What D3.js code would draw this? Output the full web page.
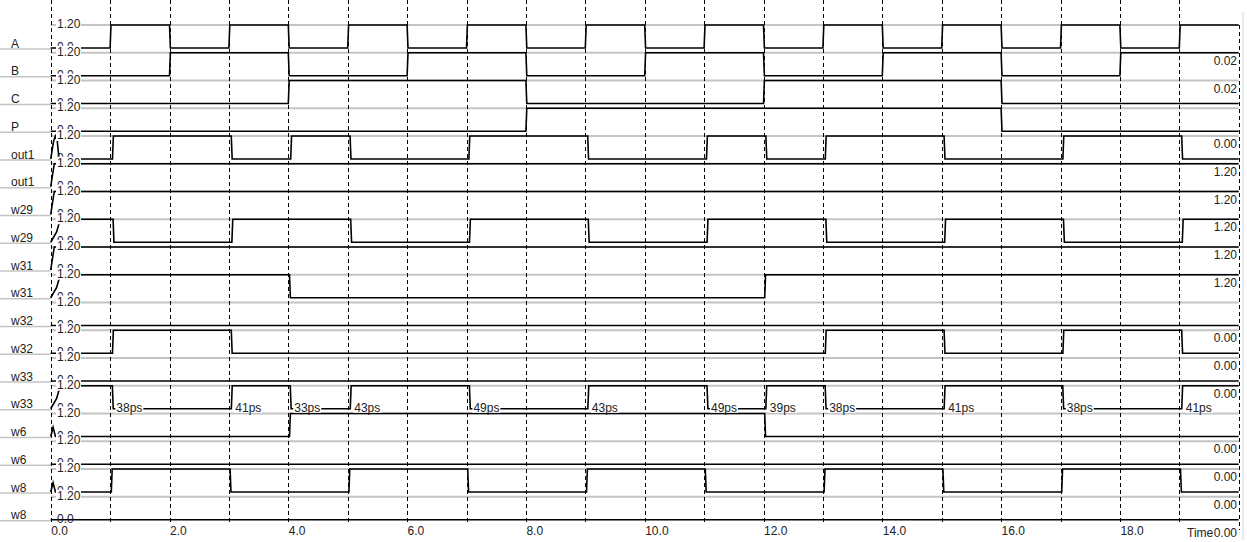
<!DOCTYPE html>
<html>
<head>
<meta charset="utf-8">
<script src="https://cdnjs.cloudflare.com/ajax/libs/d3/7.8.5/d3.min.js"></script>
<style>
  body { margin: 0; background: #fff; }
  svg text { font-family: "Liberation Sans", Arial, sans-serif; font-size: 12px; fill: #222; }
</style>
</head>
<body>
<div id="wave"></div>
<script>
// signal rows, top to bottom
var rowNames = ["A", "B", "C", "P", "out1", "out1", "w29", "w29", "w31", "w31",
                "w32", "w32", "w33", "w33", "w6", "w6", "w8", "w8"];
var startLevels = [0, 0, 0, 0, 0, 1, 1, 1, 1, 1, 0, 0, 0, 1, 0, 0, 0, 0];

// edge times (ns) for each row
var edgesA = [1, 2, 3, 4, 5, 6, 7, 8, 9, 10, 11, 12, 13, 14, 15, 16, 17, 18, 19];
var edgesB = [2, 4, 6, 8, 10, 12, 14, 16, 18];
var edgesC = [4, 8, 12, 16];
var edgesP = [8, 16];
var edgesOut1 = [1, 3, 4, 5, 7, 9, 11, 12, 13, 15, 17, 19];
var edgesW29 = [1, 3, 5, 7, 9, 11, 13, 15, 17, 19];
var edgesW31 = [4, 12];
var edgesW32 = [1, 3, 13, 15, 17, 19];
var edgesW33 = [1, 3, 4, 5, 7, 9, 11, 12, 13, 15, 17, 19];
var delaysW33 = [38, 41, 33, 43, 49, 43, 49, 39, 38, 41, 38, 41]; // ps
var edgesW6 = [4, 12];
var edgesW8 = [1, 3, 5, 7, 9, 11, 13, 15, 17, 19];

// start-up behaviour right after t=0, [ns, level]
var spikeOut1 = [[0, 0], [0.05, 0.8], [0.08, 1], [0.11, 0.8], [0.14, 0]];
var rampFast = [[0, 0], [0.06, 1]];
var rampSlow = [[0, 0], [0.1, 0.45], [0.15, 0.9], [0.2, 1]];
var bumpSmall = [[0, 0], [0.04, 0.4], [0.08, 0]];

var rows = [
  { edges: edgesA, delay: 0, startup: null },
  { edges: edgesB, delay: 0, startup: null },
  { edges: edgesC, delay: 0, startup: null },
  { edges: edgesP, delay: 0, startup: null },
  { edges: edgesOut1, delay: 0.04, startup: spikeOut1 },
  { edges: [], delay: 0, startup: rampFast },
  { edges: [], delay: 0, startup: rampFast },
  { edges: edgesW29, delay: 0.05, startup: rampSlow },
  { edges: [], delay: 0, startup: rampFast },
  { edges: edgesW31, delay: 0.02, startup: rampSlow },
  { edges: [], delay: 0, startup: null },
  { edges: edgesW32, delay: 0.04, startup: null },
  { edges: [], delay: 0, startup: null },
  { edges: edgesW33, delay: delaysW33.map(function (d) { return d / 1000; }), startup: rampSlow },
  { edges: edgesW6, delay: 0.02, startup: bumpSmall },
  { edges: [], delay: 0, startup: null },
  { edges: edgesW8, delay: 0.02, startup: bumpSmall },
  { edges: [], delay: 0, startup: null }
];

var tickValues = [0, 2, 4, 6, 8, 10, 12, 14, 16, 18];
var tickLabels = ["0.0", "2.0", "4.0", "6.0", "8.0", "10.0", "12.0", "14.0", "16.0", "18.0"];

// cursor values at right edge
var rightRows = [1, 2, 4, 5, 6, 7, 8, 9, 11, 12, 13, 15, 16, 17, 18];
var rightVals = ["0.02", "0.02", "0.00", "1.20", "1.20", "1.20", "1.20", "1.20",
                 "0.00", "0.00", "0.00", "0.00", "0.00", "0.00", "0.00"];

var width = 1247, height = 542;
var swing = 23;

var svg = d3.select("#wave").append("svg")
    .attr("width", width)
    .attr("height", height);

var x = d3.scaleLinear().domain([0, 20]).range([50.7, 1238.7]);
var rowTop = d3.scaleLinear().domain([0, 17]).range([25, 496.75]);

function levelY(i, v) {
    return rowTop(i) + swing * (1 - v);
}

// build waveform points from edges
function wavePoints(r, i) {
    var pts = r.startup ? r.startup.slice() : [[0, startLevels[i]]];
    var v = startLevels[i];
    r.edges.forEach(function (e, k) {
        var d = Array.isArray(r.delay) ? r.delay[k] : r.delay;
        pts.push([e + d, v]);
        v = 1 - v;
        pts.push([e + d + 0.015, v]);
    });
    pts.push([20, v]);
    return pts;
}

// grey level lines
svg.append("g").selectAll("line")
    .data(rowNames)
    .enter().append("line")
    .attr("x1", x(0)).attr("x2", x(20))
    .attr("y1", function (d, i) { return rowTop(i); })
    .attr("y2", function (d, i) { return rowTop(i); })
    .attr("stroke", "#c4c4c4")
    .attr("stroke-width", 2);

// name underlines
svg.append("g").selectAll("line")
    .data(rowNames)
    .enter().append("line")
    .attr("x1", 0).attr("x2", x(0))
    .attr("y1", function (d, i) { return rowTop(i) + swing + 1; })
    .attr("y2", function (d, i) { return rowTop(i) + swing + 1; })
    .attr("stroke", "#c4c4c4")
    .attr("stroke-width", 1.5);

svg.append("g").selectAll("text")
    .data(rowNames)
    .enter().append("text")
    .attr("x", 11)
    .attr("y", function (d, i) { return rowTop(i) + swing - 0.5; })
    .text(function (d) { return d; });

// waveforms
svg.append("g").selectAll("path")
    .data(rows)
    .enter().append("path")
    .attr("d", function (r, i) {
        return d3.line()
            .x(function (p) { return x(p[0]); })
            .y(function (p) { return levelY(i, p[1]); })(wavePoints(r, i));
    })
    .attr("fill", "none")
    .attr("stroke", "#000")
    .attr("stroke-width", 1.6);

// dashed time grid
svg.append("g").selectAll("line")
    .data(d3.range(0, 21))
    .enter().append("line")
    .attr("x1", function (t) { return Math.round(x(t)) + 0.5; })
    .attr("x2", function (t) { return Math.round(x(t)) + 0.5; })
    .attr("y1", function (t) { return t === 20 ? 25 : 0; })
    .attr("y2", function (t) { return t === 20 ? 530 : 523; })
    .attr("stroke", "#000")
    .attr("stroke-width", 1)
    .attr("stroke-dasharray", "4,3");

// y labels: "0.0" at the low level, then "1.20" of each row over it
var yLab = svg.append("g");
rowNames.forEach(function (d, i) {
    yLab.append("text")
        .attr("x", 57)
        .attr("y", levelY(i, 0) + 3)
        .text("0.0");
});
rowNames.forEach(function (d, i) {
    yLab.append("rect")
        .attr("x", 56).attr("y", rowTop(i) - 7)
        .attr("width", 25).attr("height", 12)
        .attr("fill", "#fff");
    yLab.append("text")
        .attr("x", 57)
        .attr("y", rowTop(i) + 3)
        .text("1.20");
});

// delay annotations on w33
var psG = svg.append("g");
edgesW33.forEach(function (e, k) {
    var xe = x(e + delaysW33[k] / 1000) + 3;
    var yb = levelY(13, 0) + 3;
    psG.append("rect")
        .attr("x", xe).attr("y", yb - 9)
        .attr("width", 28).attr("height", 10)
        .attr("fill", "#fff");
    psG.append("text")
        .attr("x", xe + 1)
        .attr("y", yb)
        .text(delaysW33[k] + "ps");
});

// cursor values on right
var rg = svg.append("g");
rightRows.forEach(function (r, k) {
    var yc = 25 + r * 27.75 + 8;
    rg.append("rect")
        .attr("x", 1211).attr("y", yc - 6)
        .attr("width", 26).attr("height", 12)
        .attr("fill", "#fff");
    rg.append("text")
        .attr("x", 1237)
        .attr("y", yc + 4)
        .attr("text-anchor", "end")
        .text(rightVals[k]);
});

// time axis
var axis = d3.axisBottom(x)
    .tickValues(tickValues)
    .tickFormat(function (d, i) { return tickLabels[i]; })
    .tickSize(0)
    .tickPadding(0);

var axG = svg.append("g")
    .attr("transform", "translate(0,524)")
    .call(axis);
axG.select(".domain").remove();
axG.selectAll("text")
    .attr("text-anchor", "start")
    .attr("dy", "0.9em")
    .style("font-family", "Liberation Sans, Arial, sans-serif")
    .style("font-size", "12px")
    .style("fill", "#222");

svg.append("text")
    .attr("x", 1187)
    .attr("y", 537)
    .text("Time");

// window frame bits at the right
svg.append("line")
    .attr("x1", 1243).attr("x2", 1243)
    .attr("y1", 12).attr("y2", 540)
    .attr("stroke", "#d6d6d6");
</script>
</body>
</html>
